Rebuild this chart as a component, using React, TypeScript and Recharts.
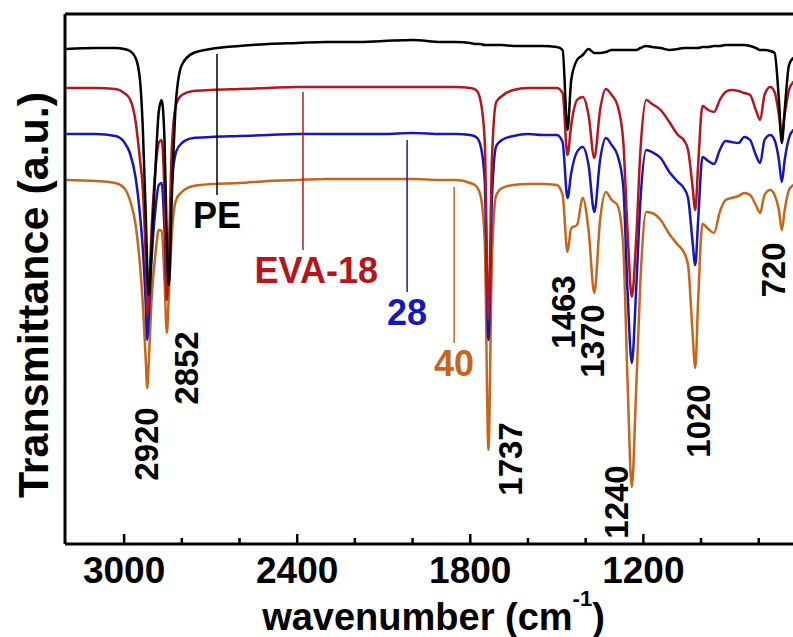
import React from 'react';
import { LineChart, Line, XAxis, YAxis, ReferenceLine, ReferenceDot } from 'recharts';

const FONT = '"Liberation Sans", Arial, Helvetica, sans-serif';

// wavenumber grid (cm-1), descending
const wavenumbers = [3200, 3100, 3030, 3000, 2980, 2960, 2945, 2935, 2925, 2920, 2915, 2905, 2890, 2880, 2870, 2860, 2852, 2845, 2835, 2820, 2800, 2760, 2700, 2600, 2500, 2400, 2300, 2200, 2100, 2000, 1900, 1850, 1800, 1780, 1765, 1750, 1737, 1725, 1710, 1690, 1650, 1600, 1550, 1500, 1480, 1463, 1450, 1430, 1410, 1390, 1370, 1350, 1330, 1310, 1290, 1270, 1255, 1240, 1225, 1210, 1190, 1170, 1140, 1110, 1080, 1060, 1045, 1030, 1020, 1010, 995, 975, 955, 935, 915, 895, 870, 850, 830, 810, 795, 780, 760, 745, 730, 720, 710, 695, 680, 650];

// transmittance (a.u., vertically offset spectra)
const pe = [495, 496, 496, 495, 493, 486, 464, 414, 329, 279, 249, 294, 384, 432, 444, 404, 304, 259, 344, 444, 479, 491, 495, 498, 500, 501, 502, 502, 503, 504, 502, 502, 501, 500, 500, 499, 499, 499, 499, 499, 498, 498, 498, 497, 494, 414, 464, 484, 489, 495, 491, 491, 492, 494, 494, 494, 494, 494, 494, 496, 498, 497, 496, 494, 495, 496, 496, 496, 496, 496, 497, 497, 498, 498, 499, 499, 499, 499, 498, 496, 494, 494, 493, 491, 444, 401, 434, 479, 486, 489];
const eva18 = [456, 456, 455, 451, 445, 422, 384, 354, 284, 229, 244, 314, 379, 401, 404, 349, 244, 289, 394, 439, 449, 453, 454, 455, 456, 457, 457, 457, 457, 457, 457, 457, 456, 454, 444, 404, 224, 384, 442, 448, 454, 456, 456, 456, 451, 389, 419, 444, 447, 429, 386, 434, 455, 449, 439, 404, 314, 247, 304, 394, 444, 440, 434, 422, 409, 404, 394, 359, 334, 379, 438, 434, 432, 444, 452, 454, 453, 451, 449, 434, 424, 449, 457, 452, 429, 407, 429, 454, 462, 466];
const eva28 = [410, 410, 408, 402, 391, 366, 329, 294, 239, 204, 224, 284, 339, 359, 361, 314, 252, 279, 359, 392, 401, 406, 407, 408, 409, 410, 410, 410, 410, 411, 410, 410, 409, 407, 399, 364, 204, 344, 398, 404, 408, 410, 409, 409, 402, 346, 371, 392, 397, 379, 332, 384, 406, 399, 389, 359, 254, 181, 254, 344, 394, 392, 386, 372, 362, 356, 346, 304, 279, 324, 387, 383, 380, 394, 403, 402, 401, 407, 404, 389, 381, 404, 409, 404, 384, 362, 384, 406, 414, 418];
const eva40 = [364, 363, 361, 356, 344, 319, 279, 239, 184, 156, 179, 244, 294, 314, 313, 264, 211, 249, 309, 344, 352, 358, 360, 361, 363, 364, 365, 365, 365, 365, 364, 364, 361, 358, 349, 304, 94, 284, 349, 356, 359, 360, 360, 359, 349, 292, 316, 319, 346, 314, 251, 324, 352, 344, 339, 299, 164, 57, 154, 264, 332, 331, 324, 310, 299, 292, 279, 214, 176, 244, 320, 315, 311, 332, 344, 346, 348, 351, 349, 339, 331, 349, 354, 349, 334, 314, 334, 354, 359, 362];

const seriesKeys = ['pe', 'eva18', 'eva28', 'eva40'];
const seriesNames = ['PE', 'EVA-18', '28', '40'];
const seriesColors = ['#000000', '#b3161c', '#1717b8', '#c6661c'];

// annotation leader lines (wavenumber, top, bottom) and label anchor wavenumber
const annotX = [2678, 2380, 2019, 1856];
const annotTop = [490, 452, 404, 357];
const annotBottom = [349, 294, 252, 201];
const annotLabelX = [2678, 2334, 2019, 1856];

// peak labels
const peakLabels = ['2920', '2852', '1737', '1463', '1370', '1240', '1020', '720'];
const peakLabelX = [2882, 2744, 1620, 1436, 1336, 1252, 968, 708];
const peakLabelY = [100, 176, 85, 232, 203, 42, 123, 274];

// axis ticks
const allTicks = [3000, 2800, 2600, 2400, 2200, 2000, 1800, 1600, 1400, 1200, 1000, 800];
const majorTicks = [3000, 2400, 1800, 1200];
const Y_MIN = 0;
const Y_MAX = 530;

const data = wavenumbers.map((wn, i) => ({
  wn,
  pe: pe[i],
  eva18: eva18[i],
  eva28: eva28[i],
  eva40: eva40[i],
}));

const XLabel = (props: any) => {
  const vb = props.viewBox || { x: 64, y: 544, width: 737 };
  return (
    <text x={vb.x + vb.width / 2} y={vb.y + 86} textAnchor="middle" fontSize={38} fontWeight="bold" fontFamily={FONT} fill="#000">
      wavenumber (cm
      <tspan dy={-24} fontSize={22}>-1</tspan>
      <tspan dy={24}>)</tspan>
    </text>
  );
};

const YLabel = (props: any) => {
  const vb = props.viewBox || { x: 64, y: 14, width: 1, height: 530 };
  const cx = vb.x + vb.width - 17;
  const cy = vb.y + 281;
  return (
    <text transform={`translate(${cx},${cy}) rotate(-90)`} textAnchor="middle" fontSize={43} fontWeight="bold" fontFamily={FONT} fill="#000">
      Transmittance (a.u.)
    </text>
  );
};

export default function App() {
  const drawOrder = [3, 2, 1, 0];
  return (
    <div style={{ position: 'absolute', left: 0, top: 0, width: 793, height: 637, overflow: 'hidden', background: '#fff' }}>
      <LineChart width={810} height={637} data={data} margin={{ top: 14, right: 8, bottom: 0, left: 64 }}>
        <XAxis
          dataKey="wn"
          type="number"
          domain={[650, 3205]}
          reversed
          allowDataOverflow
          ticks={allTicks}
          tick={false}
          tickLine={false}
          height={93}
          axisLine={{ stroke: '#000', strokeWidth: 3 }}
          label={{ content: XLabel }}
        />
        <YAxis
          type="number"
          domain={[Y_MIN, Y_MAX]}
          allowDataOverflow
          width={1}
          tick={false}
          tickLine={false}
          axisLine={{ stroke: '#000', strokeWidth: 3 }}
          label={{ content: YLabel }}
        />
        <ReferenceLine y={Y_MAX} stroke="#000" strokeWidth={3} ifOverflow="visible" />
        {drawOrder.map((i) => (
          <Line
            key={seriesKeys[i]}
            dataKey={seriesKeys[i]}
            name={seriesNames[i]}
            type="monotone"
            stroke={seriesColors[i]}
            strokeWidth={2.5}
            dot={false}
            isAnimationActive={false}
          />
        ))}
        {seriesNames.map((name, i) => (
          <ReferenceLine
            key={`al-${name}`}
            segment={[{ x: annotX[i], y: annotTop[i] }, { x: annotX[i], y: annotBottom[i] }]}
            stroke={seriesColors[i]}
            strokeWidth={1.5}
            ifOverflow="visible"
          />
        ))}
        {seriesNames.map((name, i) => (
          <ReferenceDot
            key={`lt-${name}`}
            x={annotLabelX[i]}
            y={annotBottom[i]}
            r={0}
            ifOverflow="visible"
            shape={(p: any) => (
              <text x={p.cx} y={p.cy + 33} textAnchor="middle" fontSize={36} fontWeight="bold" fontFamily={FONT} fill={seriesColors[i]}>
                {name}
              </text>
            )}
          />
        ))}
        {peakLabels.map((t, i) => (
          <ReferenceDot
            key={`pk-${t}`}
            x={peakLabelX[i]}
            y={peakLabelY[i]}
            r={0}
            ifOverflow="visible"
            shape={(p: any) => (
              <text transform={`translate(${p.cx},${p.cy}) rotate(-90)`} textAnchor="middle" fontSize={33} fontWeight="bold" fontFamily={FONT} fill="#000">
                {t}
              </text>
            )}
          />
        ))}
        {allTicks.map((v) => {
          const major = majorTicks.includes(v);
          return (
            <ReferenceDot
              key={`tk-${v}`}
              x={v}
              y={Y_MIN}
              r={0}
              ifOverflow="visible"
              shape={(p: any) => (
                <g>
                  <line x1={p.cx} x2={p.cx} y1={p.cy} y2={p.cy - (major ? 10 : 6)} stroke="#000" strokeWidth={2.5} />
                  {major && (
                    <text x={p.cx} y={p.cy + 39} textAnchor="middle" fontSize={37} fontWeight="bold" fontFamily={FONT} fill="#000">
                      {v}
                    </text>
                  )}
                </g>
              )}
            />
          );
        })}
      </LineChart>
    </div>
  );
}
